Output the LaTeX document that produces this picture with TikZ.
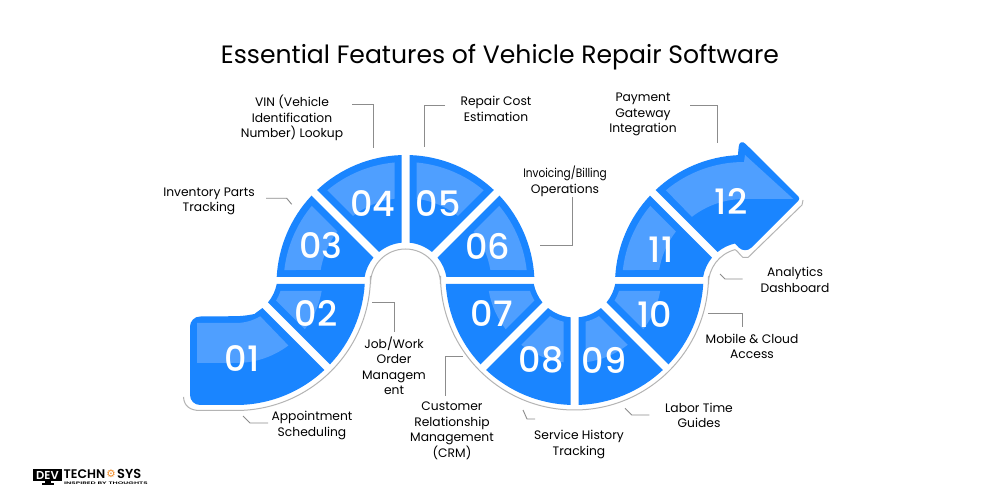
\documentclass[tikz,border=0pt]{standalone}
\usepackage{fontspec}
\setmainfont{Poppins}
\newfontfamily\numfont{Poppins Medium}
\newfontfamily\titlefont{Poppins}
\newfontfamily\logofont{Poppins SemiBold}
\newfontfamily\symfont{DejaVu Sans}
\definecolor{tilecol}{HTML}{1A85FF}
\definecolor{lightcol}{HTML}{4F9FFF}
\definecolor{leadcol}{HTML}{8C8C8C}
\definecolor{shadcol}{HTML}{B4B4B4}
\definecolor{logoor}{HTML}{F08A24}
\tikzset{
  lab/.style={align=center,font=\fontsize{12.3}{15.5}\selectfont,text=black,inner sep=0pt},
  num/.style={font=\numfont\fontsize{35}{35}\selectfont,text=white,inner sep=0pt},
  leader/.style={draw=leadcol,line width=0.9pt},
  shad/.style={draw=shadcol,line width=1pt}
}
% sector: cx cy a1 a2 g1 g2 R r colour
\newcommand\sectorfill[9]{%
  \pgfmathsetmacro\aA{#3+asin(#5/#7)}%
  \pgfmathsetmacro\aB{#4-asin(#6/#7)}%
  \pgfmathsetmacro\aC{#3+asin(#5/#8)}%
  \pgfmathsetmacro\aD{#4-asin(#6/#8)}%
  \fill[#9] ($(#1,#2)+(\aA:#7pt)$) arc[start angle=\aA,end angle=\aB,radius=#7pt]
    -- ($(#1,#2)+(\aD:#8pt)$) arc[start angle=\aD,end angle=\aC,radius=#8pt] -- cycle;%
}
\newcommand\topsector[5]{% a1 a2 g1 g2 centrex
  \sectorfill{#5}{216}{#1}{#2}{#3}{#4}{129}{41.5}{tilecol}%
  \pgfmathsetmacro\gA{#3+7}\pgfmathsetmacro\gB{#4+7}%
  \sectorfill{#5}{216}{#1}{#2}{\gA}{\gB}{122}{86}{lightcol}%
}
\newcommand\botsector[5]{%
  \sectorfill{#5}{224}{#1}{#2}{#3}{#4}{129}{41.5}{tilecol}%
  \pgfmathsetmacro\gA{#3+7}\pgfmathsetmacro\gB{#4+7}%
  \sectorfill{#5}{224}{#1}{#2}{\gA}{\gB}{87}{47}{lightcol}%
}
\usetikzlibrary{calc}
\begin{document}
\begin{tikzpicture}[x=1pt,y=1pt]
\useasboundingbox (0,0) rectangle (1000,500);
\fill[white] (0,0) rectangle (1000,500);

% S-shaped shadow line
\draw[shad] (183.5,103) .. controls (184,94) and (190,89.5) .. (200,89.5) -- (236,89.5)
  arc[start angle=270,end angle=360,radius=134.5pt] -- (370.5,216)
  arc[start angle=180,end angle=0,radius=35pt] -- (440.5,224)
  arc[start angle=180,end angle=360,radius=134pt] -- (708.5,216)
  arc[start angle=180,end angle=105,radius=35.5pt]
  .. controls (737,250) and (739,246) .. (743,242.5) -- (748,242.5) -- (802,295) -- (803,300);

% 01
\fill[tilecol] ($(236,224)+(313.2:129pt)$) arc[start angle=313.2,end angle=270,radius=129pt]
  [rounded corners=10pt] -- (190,95) -- (190,183.4) -- ($(236,224)+(285:41.5pt)$) [sharp corners]
  arc[start angle=285,end angle=309.5,radius=41.5pt] -- cycle;
\fill[lightcol] (197,177) -- (236,177) arc[start angle=270,end angle=301,radius=47pt]
  -- ($(236,224)+(307:87pt)$) arc[start angle=307,end angle=270,radius=87pt] -- (197,137) -- cycle;
% 02
\botsector{315}{360}{4}{8}{236}
% 03 04 05 06
\topsector{135}{180}{4}{7}{405.5}
\topsector{90}{135}{4}{4}{405.5}
\topsector{45}{90}{4}{4}{405.5}
\topsector{0}{45}{7}{4}{405.5}
% 07 08 09 10
\botsector{180}{225}{8}{4}{574.5}
\botsector{225}{270}{4}{4}{574.5}
\botsector{270}{315}{4}{4}{574.5}
\botsector{315}{360}{4}{8}{574.5}
% 11
\topsector{135}{180}{4}{7}{744}
% 12
\fill[tilecol] ($(744,216)+(133.2:129pt)$) arc[start angle=133.2,end angle=92.7,radius=129pt]
  [rounded corners=9pt] -- (739.5,362.2) [rounded corners=3pt] -- (800.5,301.4) [rounded corners=9pt] -- (745,246)
  [sharp corners] -- ($(744,216)+(102.7:41.5pt)$) arc[start angle=102.7,end angle=129.5,radius=41.5pt] -- cycle;
\fill[lightcol] ($(744,216)+(129.8:122pt)$) arc[start angle=129.8,end angle=90,radius=122pt]
  -- (745,345) -- (793.3,301) -- (744,301) arc[start angle=90,end angle=127.8,radius=85pt] -- cycle;

% numbers
\node[num] (n01) at (242,141) {01};
\node[num] (n02) at (316,187) {02};
\node[num] (n03) at (321,254) {03};
\node[num] (n04) at (373,296) {04};
\node[num] (n05) at (438,296) {05};
\node[num] (n06) at (488,254) {06};
\node[num] (n07) at (492,186) {07};
\node[num] (n08) at (541,140) {08};
\node[num] (n09) at (604,140) {09};
\node[num] (n10) at (655,185) {10};
\node[num] (n11) at (661,250) {11};
\node[num] (n12) at (731,299) {12};

% title
\node[font=\titlefont\fontsize{25.1}{25.1}\selectfont,inner sep=0pt] (title) at (500,443) {Essential Features of Vehicle Repair Software};

% labels
\node[lab] (l01) at (312,74.5) {Appointment\\Scheduling};
\node[lab] (l02) at (394,134) {Job/Work\\Order\\Managem\\ent};
\node[lab] (l03) at (209,298.5) {Inventory Parts\\Tracking};
\node[lab] (l04) at (292,382) {VIN (Vehicle\\Identification\\Number) Lookup};
\node[lab] (l05) at (496,391) {Repair Cost\\Estimation};
\node[lab] (l06) at (565,318.5) {\scalebox{0.86}[1]{Invoicing/Billing}\\Operations};
\node[lab] (l07) at (452,69) {Customer\\Relationship\\Management\\(CRM)};
\node[lab] (l08) at (579,55.5) {Service History\\Tracking};
\node[lab] (l09) at (699,84.5) {Labor Time\\Guides};
\node[lab] (l10) at (752,153.5) {Mobile \& Cloud\\Access};
\node[lab] (l11) at (795,220) {Analytics\\Dashboard};
\node[lab] (l12) at (643,385.5) {Payment\\Gateway\\Integration};

% leader ends
\coordinate (e01a) at (243,84); \coordinate (e01b) at (268,77);
\coordinate (e02a) at (372,198); \coordinate (e02b) at (394,168);
\coordinate (e03a) at (266,301.7); \coordinate (e03b) at (291.7,295.7);
\coordinate (e04a) at (352,396); \coordinate (e04b) at (373.3,352);
\coordinate (e05a) at (445,395); \coordinate (e05b) at (424,353);
\coordinate (e06a) at (572,303); \coordinate (e06b) at (540,255);
\coordinate (e07a) at (463,144); \coordinate (e07b) at (445.7,104);
\coordinate (e08a) at (523,90); \coordinate (e08b) at (535,81);
\coordinate (e09a) at (625,91.7); \coordinate (e09b) at (649.3,85);
\coordinate (e10a) at (708,186.7); \coordinate (e10b) at (742.7,173.3);
\coordinate (e11a) at (720,226); \coordinate (e11b) at (742.7,221);
\coordinate (e12a) at (690,395); \coordinate (e12b) at (717,357);

\draw[leader] (e01a) -- ++(7,-7) -- (e01b);
\draw[leader] (e02a) -| (e02b);
\draw[leader] (e03a) -- ++(20.7,0) -- (e03b);
\draw[leader] (e04a) -| (e04b);
\draw[leader] (e05a) -| (e05b);
\draw[leader] (e06a) |- (e06b);
\draw[leader] (e07a) -| (e07b);
\draw[leader] (e08a) -- ++(4,-9) -- (e08b);
\draw[leader] (e09a) -- ++(6.7,-6.7) -- (e09b);
\draw[leader] (e10a) -| (e10b);
\draw[leader] (e11a) -- ++(5,-5) -- (e11b);
\draw[leader] (e12a) -| (e12b);

% logo
\fill[black] (33,19) rectangle (62,30.5);
\fill[black] (45,16.5) rectangle (51,19);
\fill[black] (42,15) rectangle (54,16.5);
\node[font=\logofont\fontsize{11.5}{11.5}\selectfont,text=white,inner sep=0pt] (logodev) at (47.5,24.7) {DEV};
\node[font=\logofont\fontsize{12.5}{12.5}\selectfont,text=black,inner sep=0pt,anchor=west] (logotech) at (63.5,26) {TECHN};
\node[font=\symfont\fontsize{10.5}{10.5}\selectfont,text=logoor,inner sep=0pt] (logogear) at (111,26) {⚙};
\node[font=\logofont\fontsize{13}{13}\selectfont,text=black,inner sep=0pt,anchor=west] (logosys) at (117,26) {SYS};
\node[font=\logofont\fontsize{3.6}{3.6}\selectfont,text=black,inner sep=0pt,anchor=west] (logotag) at (64,16.5) {\scalebox{2}[1]{INSPIRED BY THOUGHTS}};
\end{tikzpicture}
\end{document}
